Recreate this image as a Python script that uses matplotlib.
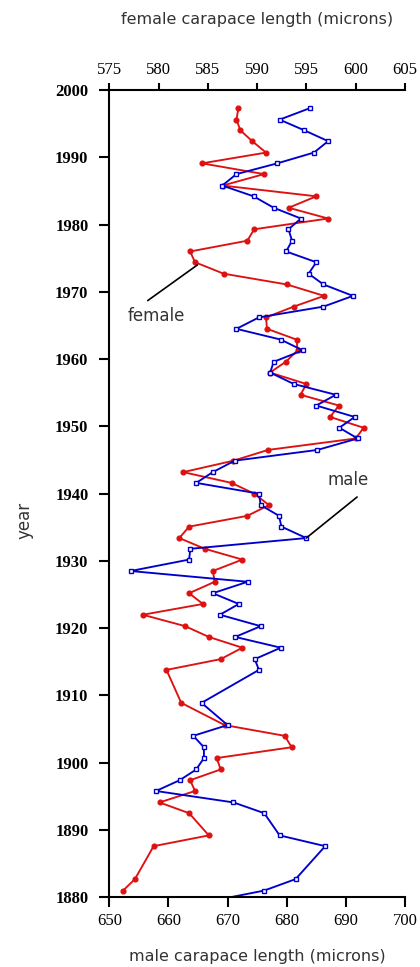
import matplotlib
matplotlib.use("Agg")
import matplotlib.pyplot as plt

# years of the samples
female_years = [
    1997.3, 1995.6, 1994.0, 1992.4, 1990.7, 1989.1, 1987.5, 1985.8, 1984.2, 1982.5,
    1980.9, 1979.3, 1977.6, 1976.0, 1974.4, 1972.7, 1971.1, 1969.4, 1967.8, 1966.2,
    1964.5, 1962.9, 1961.3, 1959.6, 1958.0, 1956.3, 1954.7, 1953.1, 1951.4, 1949.8,
    1948.2, 1946.5, 1944.9, 1943.2, 1941.6, 1940.0, 1938.3, 1936.7, 1935.1, 1933.4,
    1931.8, 1930.2, 1928.5, 1926.9, 1925.2, 1923.6, 1922.0, 1920.3, 1918.7, 1917.1,
    1915.4, 1913.8, 1908.9, 1905.6, 1904.0, 1902.3, 1900.7, 1899.0, 1897.4, 1895.8,
    1894.1, 1892.5, 1889.2, 1887.6, 1882.7, 1881.0,
]
male_years = female_years + [1879.4]

# carapace lengths (microns)
female_len = [
    588.1, 587.9, 588.3, 589.5, 590.9, 584.4, 590.7, 586.5, 596.0, 593.2,
    597.2, 589.7, 589.0, 583.2, 583.7, 586.6, 593.0, 596.8, 593.7, 590.9,
    591.0, 594.0, 594.1, 592.9, 591.3, 595.0, 594.4, 598.3, 597.4, 600.8,
    600.0, 591.1, 587.6, 582.5, 587.4, 589.7, 591.2, 589.0, 583.1, 582.1,
    584.7, 588.5, 585.5, 585.7, 583.1, 584.5, 578.4, 582.7, 585.1, 588.5,
    586.3, 580.8, 582.3, 586.7, 592.8, 593.5, 585.9, 586.3, 583.2, 583.7,
    580.1, 583.1, 585.1, 579.5, 577.6, 576.4,
]
male_len = [
    683.9, 678.8, 683.0, 687.0, 684.6, 678.4, 671.5, 669.1, 674.4, 677.8,
    682.4, 680.3, 680.9, 679.9, 685.0, 683.7, 686.2, 691.2, 686.2, 675.3,
    671.5, 679.0, 682.7, 677.8, 677.2, 681.2, 688.3, 685.0, 691.5, 688.9,
    692.0, 685.2, 671.2, 667.5, 664.7, 675.3, 675.6, 678.7, 679.1, 683.3,
    663.7, 663.5, 653.6, 673.4, 667.5, 671.9, 668.7, 675.6, 671.3, 679.0,
    674.6, 675.3, 665.6, 670.0, 664.2, 666.0, 666.0, 664.7, 661.9, 657.9,
    671.0, 676.2, 678.8, 686.5, 681.5, 676.2, 667.0,
]

male_ticks = [650, 660, 670, 680, 690, 700]
female_ticks = [575, 580, 585, 590, 595, 600, 605]
year_ticks = list(range(1880, 2001, 10))

RED = "#dd1111"
BLUE = "#0000cc"
TXT = "#333333"
serif = "Liberation Serif"

fig = plt.figure(figsize=(4.2, 9.67), dpi=100)
ax = fig.add_axes([0.2602, 0.0721, 0.7041, 0.8348])
ax2 = ax.twiny()

# female on the top axis (drawn underneath), male on the bottom axis
ax2.plot(female_len, female_years, "-o", color=RED, lw=1.35, ms=3.4, mec=RED, mfc=RED)
ax.plot(male_len, male_years, "-s", color=BLUE, lw=1.35, ms=3.5, mew=1.0,
        mec=BLUE, mfc="white")
ax.set_zorder(ax2.get_zorder() + 1)
ax.patch.set_visible(False)

ax.set_xlim(650, 700)
ax.set_ylim(1880, 2000)
ax2.set_xlim(575, 605)

ax.set_xticks(male_ticks)
ax.set_yticks(year_ticks)
ax2.set_xticks(female_ticks)

for s in ["top", "right"]:
    ax.spines[s].set_visible(False)
for s in ["left", "bottom", "right"]:
    ax2.spines[s].set_visible(False)
for a in (ax, ax2):
    for sp in a.spines.values():
        sp.set_linewidth(1.5)

ax.tick_params(axis="x", direction="out", length=7, width=1.5, pad=4)
ax.tick_params(axis="y", direction="out", length=7, width=1.5, pad=8)
ax2.tick_params(axis="x", direction="out", length=5, width=1.5, pad=4)

for lab in ax.get_xticklabels() + ax2.get_xticklabels():
    lab.set_fontfamily(serif)
    lab.set_fontsize(12)
for lab in ax.get_yticklabels():
    lab.set_fontfamily(serif)
    lab.set_fontsize(12)
    lab.set_fontweight("bold")

ax.set_xlabel("male carapace length (microns)", fontsize=11.5, color=TXT, labelpad=15)
ax2.set_xlabel("female carapace length (microns)", fontsize=11.5, color=TXT, labelpad=27)
ax.set_ylabel("year", fontsize=12, color=TXT)
ax.yaxis.set_label_coords(-0.258, 0.467)

# callouts
ax.annotate("", xy=(664.9, 1974.0), xytext=(656.5, 1968.7),
            arrowprops=dict(arrowstyle="-", color="black", lw=1.2, shrinkA=0, shrinkB=0))
ax.text(657.9, 1966.4, "female", fontsize=12, color=TXT, ha="center", va="center")
ax.annotate("", xy=(683.3, 1933.4), xytext=(691.9, 1939.5),
            arrowprops=dict(arrowstyle="-", color="black", lw=1.2, shrinkA=0, shrinkB=0))
ax.text(690.4, 1942.0, "male", fontsize=12, color=TXT, ha="center", va="center")

fig.savefig("out.png", dpi=100)
